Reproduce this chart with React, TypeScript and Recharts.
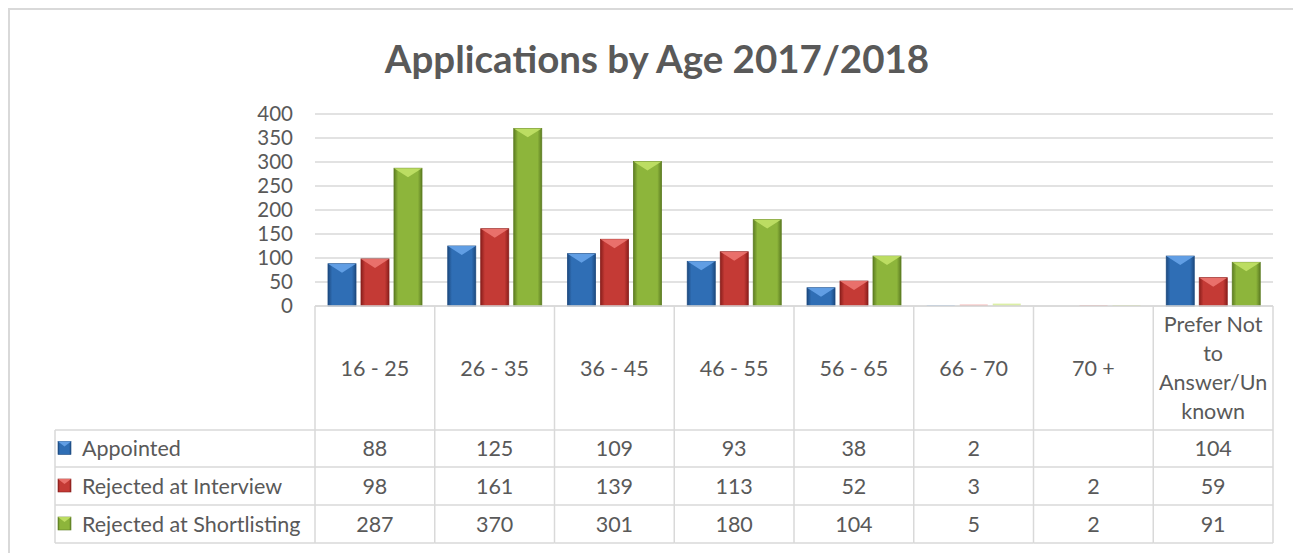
import { BarChart, Bar, XAxis, YAxis, CartesianGrid } from 'recharts';

const categories = ['16 - 25', '26 - 35', '36 - 45', '46 - 55', '56 - 65', '66 - 70', '70 +', 'Prefer Not to Answer/Unknown'];
const categoryLines = [['16 - 25'], ['26 - 35'], ['36 - 45'], ['46 - 55'], ['56 - 65'], ['66 - 70'], ['70 +'], ['Prefer Not', 'to', 'Answer/Un', 'known']];
const appointed = [88, 125, 109, 93, 38, 2, null, 104];
const interview = [98, 161, 139, 113, 52, 3, 2, 59];
const shortlisting = [287, 370, 301, 180, 104, 5, 2, 91];
const yTicks = [0, 50, 100, 150, 200, 250, 300, 350, 400];

const seriesList = [
  { key: 'appointed', name: 'Appointed', values: appointed, base: '#2f6eb5', light: '#6aa7ec', dark: '#1d4a80' },
  { key: 'interview', name: 'Rejected at Interview', values: interview, base: '#c43a35', light: '#f07a74', dark: '#8a1f1c' },
  { key: 'shortlisting', name: 'Rejected at Shortlisting', values: shortlisting, base: '#8db53b', light: '#c4e46a', dark: '#5d7d22' },
];

const data = categories.map((c, i) => ({
  name: c,
  appointed: appointed[i],
  interview: interview[i],
  shortlisting: shortlisting[i],
}));

const W = 1293;
const H = 545;
const PLOT_LEFT = 307;
const PLOT_RIGHT = 1265;
const PLOT_TOP = 106;
const PLOT_BOTTOM = 298;
const COL_W = (PLOT_RIGHT - PLOT_LEFT) / categories.length;
const HEADER_BOTTOM = 422;
const ROW_BOTTOMS = [459, 497, 535];
const LABEL_LEFT = 47;
const FONT = 'Lato, "Open Sans", sans-serif';
const TEXT = '#595959';
const LINE = '#d9d9d9';
const TABLE_FS = 21.5;

const makeShape = (s: any) => (props: any) => {
  const { x, y, width, height } = props;
  if (!height || height <= 0) return null;
  if (height < 3) {
    return <rect x={x} y={y} width={width} height={height} fill={s.light} opacity={0.6} />;
  }
  const bev = Math.min(height, width * 0.32);
  return (
    <g>
      <rect x={x} y={y} width={width} height={height} fill={`url(#grad-${s.key})`} stroke={s.dark} strokeWidth={0.8} />
      <polygon
        points={`${x},${y} ${x + width},${y} ${x + width / 2},${y + bev}`}
        fill={s.light}
        opacity={0.85}
      />
    </g>
  );
};

const LegendKey = ({ s, x, y }: any) => (
  <g>
    <rect x={x} y={y} width={13} height={13} fill={`url(#grad-${s.key})`} stroke={s.dark} strokeWidth={0.6} />
    <polygon points={`${x},${y} ${x + 13},${y} ${x + 6.5},${y + 5}`} fill={s.light} opacity={0.85} />
  </g>
);

const YTick = (props: any) => {
  const { y, payload } = props;
  return (
    <text x={PLOT_LEFT - 22} y={y} dy="0.35em" textAnchor="end" fontSize={20.5} fill={TEXT} fontFamily={FONT}>
      {payload.value}
    </text>
  );
};

const TableTick = (props: any) => {
  const { x, index } = props;
  const left = x - COL_W / 2;
  const right = x + COL_W / 2;
  const lines = categoryLines[index];
  const headMid = (PLOT_BOTTOM + HEADER_BOTTOM) / 2;
  const lh = 29;
  const rowTops = [HEADER_BOTTOM, ...ROW_BOTTOMS.slice(0, 2)];
  return (
    <g>
      {index === 0 && (
        <g>
          <line x1={left} y1={PLOT_BOTTOM} x2={left} y2={ROW_BOTTOMS[2]} stroke={LINE} strokeWidth={1.5} />
          <line x1={LABEL_LEFT} y1={HEADER_BOTTOM} x2={LABEL_LEFT} y2={ROW_BOTTOMS[2]} stroke={LINE} strokeWidth={1.5} />
          <line x1={LABEL_LEFT} y1={HEADER_BOTTOM} x2={left} y2={HEADER_BOTTOM} stroke={LINE} strokeWidth={1.5} />
          {seriesList.map((s, r) => (
            <g key={s.key}>
              <line x1={LABEL_LEFT} y1={ROW_BOTTOMS[r]} x2={left} y2={ROW_BOTTOMS[r]} stroke={LINE} strokeWidth={1.5} />
              <LegendKey s={s} x={LABEL_LEFT + 3} y={(rowTops[r] + ROW_BOTTOMS[r]) / 2 - 7} />
              <text x={LABEL_LEFT + 27} y={(rowTops[r] + ROW_BOTTOMS[r]) / 2} dy="0.35em" fontSize={TABLE_FS} fill={TEXT} fontFamily={FONT}>
                {s.name}
              </text>
            </g>
          ))}
        </g>
      )}
      <line x1={right} y1={PLOT_BOTTOM} x2={right} y2={ROW_BOTTOMS[2]} stroke={LINE} strokeWidth={1.5} />
      <line x1={left} y1={HEADER_BOTTOM} x2={right} y2={HEADER_BOTTOM} stroke={LINE} strokeWidth={1.5} />
      {lines.map((t, k) => (
        <text
          key={k}
          x={x}
          y={headMid + (k - (lines.length - 1) / 2) * lh}
          dy="0.35em"
          textAnchor="middle"
          fontSize={TABLE_FS}
          fill={TEXT}
          fontFamily={FONT}
        >
          {t}
        </text>
      ))}
      {seriesList.map((s, r) => (
        <g key={s.key}>
          <line x1={left} y1={ROW_BOTTOMS[r]} x2={right} y2={ROW_BOTTOMS[r]} stroke={LINE} strokeWidth={1.5} />
          <text x={x} y={(rowTops[r] + ROW_BOTTOMS[r]) / 2} dy="0.35em" textAnchor="middle" fontSize={TABLE_FS} fill={TEXT} fontFamily={FONT}>
            {s.values[index] ?? ''}
          </text>
        </g>
      ))}
    </g>
  );
};

export default function App() {
  return (
    <div style={{ position: 'relative', width: W, height: H, background: '#fff' }}>
      <BarChart
        width={W}
        height={H}
        data={data}
        margin={{ top: PLOT_TOP, right: W - PLOT_RIGHT, bottom: 0, left: 0 }}
        barGap={5}
        barSize={28}
      >
        <defs>
          {seriesList.map((s) => (
            <linearGradient key={s.key} id={`grad-${s.key}`} x1="0" y1="0" x2="1" y2="0">
              <stop offset="0%" stopColor={s.dark} />
              <stop offset="15%" stopColor={s.base} />
              <stop offset="50%" stopColor={s.base} />
              <stop offset="85%" stopColor={s.base} />
              <stop offset="100%" stopColor={s.dark} />
            </linearGradient>
          ))}
        </defs>
        <CartesianGrid vertical={false} stroke={LINE} strokeWidth={1.5} />
        <XAxis
          dataKey="name"
          interval={0}
          height={H - PLOT_BOTTOM}
          axisLine={{ stroke: LINE, strokeWidth: 1.5 }}
          tickLine={false}
          tick={<TableTick />}
        />
        <YAxis
          width={PLOT_LEFT}
          domain={[0, 400]}
          ticks={yTicks}
          axisLine={false}
          tickLine={false}
          tick={<YTick />}
        />
        {seriesList.map((s) => (
          <Bar key={s.key} dataKey={s.key} name={s.name} fill={s.base} isAnimationActive={false} shape={makeShape(s)} />
        ))}
      </BarChart>
      <svg width={W} height={100} style={{ position: 'absolute', left: 0, top: 0, pointerEvents: 'none' }}>
        <text x={649} y={65} textAnchor="middle" fontSize={38.5} fontWeight="bold" fill={TEXT} fontFamily={FONT}>
          Applications by Age 2017/2018
        </text>
      </svg>
      <div
        style={{
          position: 'absolute',
          left: 0,
          top: 0,
          width: W,
          height: H + 20,
          border: `2px solid ${LINE}`,
          boxSizing: 'border-box',
          pointerEvents: 'none',
        }}
      />
    </div>
  );
}
